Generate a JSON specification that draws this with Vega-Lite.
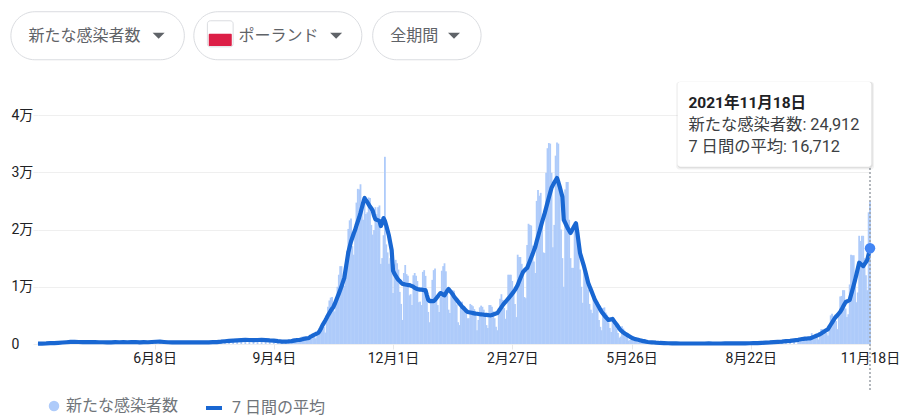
{
"$schema":"https://vega.github.io/schema/vega-lite/v6.json",
"description":"新たな感染者数と7日間の平均（ポーランド、全期間）",
"width":832,"height":229,"autosize":"none",
"padding":{"left":38,"top":115,"right":50,"bottom":74},
"background":"white",
"config":{"font":"Roboto, 'Noto Sans CJK JP'","view":{"stroke":null}},
"datasets":{"one":[{"k":1}],"latest":[{"d":"2021-11-18","n":24912,"a":16712}],
"daily":[
{"d":"2020-03-14","n":40,"a":60},{"d":"2020-03-17","n":60,"a":80},{"d":"2020-03-20","n":90,"a":100},{"d":"2020-03-23","n":120,"a":140},{"d":"2020-03-26","n":170,"a":170},{"d":"2020-03-29","n":220,"a":210},{"d":"2020-04-01","n":250,"a":260},{"d":"2020-04-04","n":300,"a":310},{"d":"2020-04-07","n":370,"a":360},{"d":"2020-04-10","n":380,"a":370},{"d":"2020-04-13","n":320,"a":350},{"d":"2020-04-16","n":350,"a":340},{"d":"2020-04-19","n":320,"a":330},{"d":"2020-04-22","n":340,"a":340},{"d":"2020-04-25","n":350,"a":330},{"d":"2020-04-28","n":300,"a":310},{"d":"2020-05-01","n":320,"a":310},{"d":"2020-05-04","n":270,"a":280},{"d":"2020-05-07","n":310,"a":300},{"d":"2020-05-10","n":330,"a":320},{"d":"2020-05-13","n":300,"a":310},{"d":"2020-05-16","n":340,"a":330},{"d":"2020-05-19","n":300,"a":310},{"d":"2020-05-22","n":340,"a":330},{"d":"2020-05-25","n":350,"a":350},{"d":"2020-05-28","n":290,"a":300},{"d":"2020-05-31","n":330,"a":320},{"d":"2020-06-03","n":300,"a":310},{"d":"2020-06-06","n":370,"a":350},{"d":"2020-06-09","n":570,"a":390},{"d":"2020-06-12","n":410,"a":400},{"d":"2020-06-15","n":330,"a":350},{"d":"2020-06-18","n":310,"a":310},{"d":"2020-06-21","n":290,"a":300},{"d":"2020-06-24","n":290,"a":290},{"d":"2020-06-27","n":280,"a":270},{"d":"2020-06-30","n":260,"a":270},{"d":"2020-07-03","n":290,"a":280},{"d":"2020-07-06","n":270,"a":280},{"d":"2020-07-09","n":300,"a":290},{"d":"2020-07-12","n":290,"a":290},{"d":"2020-07-15","n":280,"a":290},{"d":"2020-07-18","n":310,"a":300},{"d":"2020-07-21","n":320,"a":320},{"d":"2020-07-24","n":360,"a":340},{"d":"2020-07-27","n":420,"a":400},{"d":"2020-07-30","n":510,"a":480},{"d":"2020-08-02","n":570,"a":560},{"d":"2020-08-05","n":620,"a":600},{"d":"2020-08-08","n":660,"a":640},{"d":"2020-08-11","n":680,"a":680},{"d":"2020-08-14","n":820,"a":720},{"d":"2020-08-17","n":550,"a":700},{"d":"2020-08-20","n":690,"a":680},{"d":"2020-08-23","n":720,"a":700},{"d":"2020-08-26","n":700,"a":710},{"d":"2020-08-29","n":680,"a":670},{"d":"2020-09-01","n":600,"a":620},{"d":"2020-09-04","n":600,"a":590},{"d":"2020-09-07","n":400,"a":500},{"d":"2020-09-10","n":450,"a":430},{"d":"2020-09-13","n":440,"a":430},
{"d":"2020-09-14","n":300,"a":440},{"d":"2020-09-15","n":420,"a":460},{"d":"2020-09-16","n":600,"a":480},{"d":"2020-09-17","n":620,"a":500},{"d":"2020-09-18","n":1000,"a":540},{"d":"2020-09-19","n":1000,"a":590},{"d":"2020-09-20","n":780,"a":640},
{"d":"2020-09-21","n":380,"a":690},{"d":"2020-09-22","n":750,"a":700},{"d":"2020-09-23","n":970,"a":720},{"d":"2020-09-24","n":1130,"a":760},{"d":"2020-09-25","n":1300,"a":820},{"d":"2020-09-26","n":1200,"a":890},{"d":"2020-09-27","n":1000,"a":950},
{"d":"2020-09-28","n":700,"a":990},{"d":"2020-09-29","n":760,"a":1010},{"d":"2020-09-30","n":1330,"a":1060},{"d":"2020-10-01","n":1550,"a":1280},{"d":"2020-10-02","n":1490,"a":1370},{"d":"2020-10-03","n":1730,"a":1500},{"d":"2020-10-04","n":1350,"a":1620},
{"d":"2020-10-05","n":1000,"a":1750},{"d":"2020-10-06","n":2000,"a":1860},{"d":"2020-10-07","n":2240,"a":1980},{"d":"2020-10-08","n":2880,"a":2350},{"d":"2020-10-09","n":3000,"a":2800},{"d":"2020-10-10","n":3590,"a":3300},{"d":"2020-10-11","n":3000,"a":3700},
{"d":"2020-10-12","n":2000,"a":4100},{"d":"2020-10-13","n":5070,"a":4530},{"d":"2020-10-14","n":6500,"a":5000},{"d":"2020-10-15","n":7600,"a":5400},{"d":"2020-10-16","n":8100,"a":5800},{"d":"2020-10-17","n":8200,"a":6150},{"d":"2020-10-18","n":7200,"a":6480},
{"d":"2020-10-19","n":5700,"a":7000},{"d":"2020-10-20","n":7900,"a":7600},{"d":"2020-10-21","n":10000,"a":8200},{"d":"2020-10-22","n":12100,"a":8800},{"d":"2020-10-23","n":13600,"a":9440},{"d":"2020-10-24","n":13600,"a":10100},{"d":"2020-10-25","n":11700,"a":10800},
{"d":"2020-10-26","n":10200,"a":11500},{"d":"2020-10-27","n":13900,"a":13000},{"d":"2020-10-28","n":16300,"a":14500},{"d":"2020-10-29","n":20100,"a":16000},{"d":"2020-10-30","n":21600,"a":17000},{"d":"2020-10-31","n":21900,"a":17900},{"d":"2020-11-01","n":17100,"a":18600},
{"d":"2020-11-02","n":15600,"a":19300},{"d":"2020-11-03","n":19300,"a":19900},{"d":"2020-11-04","n":24700,"a":20700},{"d":"2020-11-05","n":27100,"a":21400},{"d":"2020-11-06","n":27000,"a":22100},{"d":"2020-11-07","n":27900,"a":22900},{"d":"2020-11-08","n":24800,"a":23800},
{"d":"2020-11-09","n":21700,"a":24700},{"d":"2020-11-10","n":25200,"a":25500},{"d":"2020-11-11","n":22700,"a":25100},{"d":"2020-11-12","n":23000,"a":24800},{"d":"2020-11-13","n":25600,"a":24400},{"d":"2020-11-14","n":25500,"a":24000},{"d":"2020-11-15","n":20800,"a":23700},
{"d":"2020-11-16","n":19100,"a":23300},{"d":"2020-11-17","n":19900,"a":22400},{"d":"2020-11-18","n":23900,"a":21800},{"d":"2020-11-19","n":22700,"a":21700},{"d":"2020-11-20","n":23900,"a":21600},{"d":"2020-11-21","n":24200,"a":21500},{"d":"2020-11-22","n":14000,"a":20600},
{"d":"2020-11-23","n":15000,"a":21100},{"d":"2020-11-24","n":19000,"a":22000},{"d":"2020-11-25","n":32700,"a":21500},{"d":"2020-11-26","n":17400,"a":20700},{"d":"2020-11-27","n":16000,"a":19800},{"d":"2020-11-28","n":14000,"a":18900},{"d":"2020-11-29","n":15000,"a":17600},
{"d":"2020-11-30","n":14000,"a":16400},{"d":"2020-12-01","n":8900,"a":12800},{"d":"2020-12-02","n":13900,"a":12300},{"d":"2020-12-03","n":14700,"a":11900},{"d":"2020-12-04","n":14100,"a":11500},{"d":"2020-12-05","n":13000,"a":11200},{"d":"2020-12-06","n":9100,"a":11000},
{"d":"2020-12-07","n":7000,"a":10700},{"d":"2020-12-08","n":4200,"a":10500},{"d":"2020-12-09","n":12400,"a":10450},{"d":"2020-12-10","n":13800,"a":10400},{"d":"2020-12-11","n":12200,"a":10350},{"d":"2020-12-12","n":11900,"a":10300},{"d":"2020-12-13","n":8500,"a":10300},
{"d":"2020-12-14","n":8700,"a":10200},{"d":"2020-12-15","n":6800,"a":10100},{"d":"2020-12-16","n":12000,"a":10000},{"d":"2020-12-17","n":12400,"a":9800},{"d":"2020-12-18","n":11900,"a":9700},{"d":"2020-12-19","n":11000,"a":9600},{"d":"2020-12-20","n":7300,"a":9550},
{"d":"2020-12-21","n":7400,"a":9500},{"d":"2020-12-22","n":6800,"a":9500},{"d":"2020-12-23","n":12600,"a":9450},{"d":"2020-12-24","n":12900,"a":9400},{"d":"2020-12-25","n":11900,"a":9400},{"d":"2020-12-26","n":8000,"a":8500},{"d":"2020-12-27","n":5600,"a":7700},
{"d":"2020-12-28","n":3800,"a":7500},{"d":"2020-12-29","n":8000,"a":7500},{"d":"2020-12-30","n":11200,"a":7500},{"d":"2020-12-31","n":12900,"a":7500},{"d":"2021-01-01","n":13200,"a":7700},{"d":"2021-01-02","n":7700,"a":8000},{"d":"2021-01-03","n":6800,"a":8300},
{"d":"2021-01-04","n":5600,"a":8600},{"d":"2021-01-05","n":8200,"a":8900},{"d":"2021-01-06","n":12800,"a":8800},{"d":"2021-01-07","n":13600,"a":8600},{"d":"2021-01-08","n":14100,"a":8500},{"d":"2021-01-09","n":12700,"a":8900},{"d":"2021-01-10","n":9000,"a":9300},
{"d":"2021-01-11","n":6000,"a":9600},{"d":"2021-01-12","n":5400,"a":9300},{"d":"2021-01-13","n":8700,"a":9000},{"d":"2021-01-14","n":9400,"a":8700},{"d":"2021-01-15","n":9300,"a":8300},{"d":"2021-01-16","n":8000,"a":8000},{"d":"2021-01-17","n":6900,"a":7700},
{"d":"2021-01-18","n":3800,"a":7400},{"d":"2021-01-19","n":3300,"a":7100},{"d":"2021-01-20","n":7300,"a":6800},{"d":"2021-01-21","n":7400,"a":6500},{"d":"2021-01-22","n":6700,"a":6300},{"d":"2021-01-23","n":6500,"a":6050},{"d":"2021-01-24","n":5400,"a":5800},
{"d":"2021-01-25","n":4500,"a":5600},{"d":"2021-01-26","n":4500,"a":5550},{"d":"2021-01-27","n":7000,"a":5500},{"d":"2021-01-28","n":6800,"a":5450},{"d":"2021-01-29","n":6600,"a":5400},{"d":"2021-01-30","n":6100,"a":5350},{"d":"2021-01-31","n":5000,"a":5300},
{"d":"2021-02-01","n":2400,"a":5280},{"d":"2021-02-02","n":4200,"a":5240},{"d":"2021-02-03","n":6400,"a":5200},{"d":"2021-02-04","n":6700,"a":5180},{"d":"2021-02-05","n":6500,"a":5150},{"d":"2021-02-06","n":6000,"a":5120},{"d":"2021-02-07","n":4800,"a":5100},
{"d":"2021-02-08","n":3300,"a":5080},{"d":"2021-02-09","n":2800,"a":5050},{"d":"2021-02-10","n":6800,"a":5020},{"d":"2021-02-11","n":6800,"a":5000},{"d":"2021-02-12","n":6500,"a":5080},{"d":"2021-02-13","n":5700,"a":5160},{"d":"2021-02-14","n":4500,"a":5240},
{"d":"2021-02-15","n":3000,"a":5320},{"d":"2021-02-16","n":2400,"a":5400},{"d":"2021-02-17","n":6300,"a":5750},{"d":"2021-02-18","n":7900,"a":6100},{"d":"2021-02-19","n":8700,"a":6450},{"d":"2021-02-20","n":7700,"a":6800},{"d":"2021-02-21","n":6300,"a":7080},
{"d":"2021-02-22","n":4400,"a":7360},{"d":"2021-02-23","n":5900,"a":7640},{"d":"2021-02-24","n":12100,"a":7920},{"d":"2021-02-25","n":12100,"a":8200},{"d":"2021-02-26","n":12100,"a":8500},{"d":"2021-02-27","n":11000,"a":8800},{"d":"2021-02-28","n":9400,"a":9100},
{"d":"2021-03-01","n":7000,"a":9450},{"d":"2021-03-02","n":4700,"a":9850},{"d":"2021-03-03","n":15600,"a":10300},{"d":"2021-03-04","n":15200,"a":10900},{"d":"2021-03-05","n":15200,"a":11500},{"d":"2021-03-06","n":14000,"a":12050},{"d":"2021-03-07","n":12100,"a":12600},
{"d":"2021-03-08","n":8200,"a":12850},{"d":"2021-03-09","n":8000,"a":13100},{"d":"2021-03-10","n":17300,"a":13300},{"d":"2021-03-11","n":21000,"a":13900},{"d":"2021-03-12","n":20800,"a":14500},{"d":"2021-03-13","n":20700,"a":15100},{"d":"2021-03-14","n":17200,"a":15700},
{"d":"2021-03-15","n":14400,"a":16350},{"d":"2021-03-16","n":12400,"a":17000},{"d":"2021-03-17","n":25000,"a":17900},{"d":"2021-03-18","n":26900,"a":18750},{"d":"2021-03-19","n":25900,"a":19600},{"d":"2021-03-20","n":26400,"a":20450},{"d":"2021-03-21","n":21800,"a":21300},
{"d":"2021-03-22","n":16000,"a":22100},{"d":"2021-03-23","n":15900,"a":22900},{"d":"2021-03-24","n":29900,"a":23800},{"d":"2021-03-25","n":34200,"a":24700},{"d":"2021-03-26","n":35100,"a":25600},{"d":"2021-03-27","n":35000,"a":26450},{"d":"2021-03-28","n":29900,"a":27300},
{"d":"2021-03-29","n":16900,"a":27750},{"d":"2021-03-30","n":20800,"a":28200},{"d":"2021-03-31","n":32900,"a":28600},{"d":"2021-04-01","n":35200,"a":29000},{"d":"2021-04-02","n":35000,"a":28300},{"d":"2021-04-03","n":28000,"a":27500},{"d":"2021-04-04","n":20000,"a":26600},
{"d":"2021-04-05","n":15000,"a":25700},{"d":"2021-04-06","n":10000,"a":21700},{"d":"2021-04-07","n":27000,"a":21200},{"d":"2021-04-08","n":28300,"a":20700},{"d":"2021-04-09","n":28300,"a":20200},{"d":"2021-04-10","n":21700,"a":19800},{"d":"2021-04-11","n":15000,"a":19400},
{"d":"2021-04-12","n":13300,"a":19800},{"d":"2021-04-13","n":13300,"a":20250},{"d":"2021-04-14","n":21300,"a":20700},{"d":"2021-04-15","n":21100,"a":21100},{"d":"2021-04-16","n":17900,"a":19500},{"d":"2021-04-17","n":16500,"a":17700},{"d":"2021-04-18","n":13000,"a":15900},
{"d":"2021-04-19","n":10000,"a":15100},{"d":"2021-04-20","n":7200,"a":14300},{"d":"2021-04-21","n":14000,"a":13500},{"d":"2021-04-22","n":12400,"a":12600},{"d":"2021-04-23","n":11000,"a":11650},{"d":"2021-04-24","n":9500,"a":10700},{"d":"2021-04-25","n":7000,"a":10100},
{"d":"2021-04-26","n":6000,"a":9500},{"d":"2021-04-27","n":5400,"a":8900},{"d":"2021-04-28","n":8700,"a":8300},{"d":"2021-04-29","n":8400,"a":7700},{"d":"2021-04-30","n":7500,"a":7300},{"d":"2021-05-01","n":6800,"a":6850},{"d":"2021-05-02","n":4200,"a":6450},
{"d":"2021-05-03","n":3000,"a":6000},{"d":"2021-05-04","n":2400,"a":5600},{"d":"2021-05-05","n":6300,"a":5300},{"d":"2021-05-06","n":6400,"a":5000},{"d":"2021-05-07","n":5500,"a":4700},{"d":"2021-05-08","n":5100,"a":4450},{"d":"2021-05-09","n":3800,"a":4200},
{"d":"2021-05-10","n":2800,"a":4250},{"d":"2021-05-11","n":2100,"a":4300},{"d":"2021-05-12","n":4500,"a":4400},{"d":"2021-05-13","n":4000,"a":4050},{"d":"2021-05-14","n":3300,"a":3700},{"d":"2021-05-15","n":2700,"a":3400},{"d":"2021-05-16","n":1900,"a":3050},
{"d":"2021-05-17","n":1100,"a":2700},{"d":"2021-05-18","n":1300,"a":2400},{"d":"2021-05-19","n":3100,"a":2200},{"d":"2021-05-20","n":2700,"a":2000},{"d":"2021-05-21","n":2300,"a":1850},{"d":"2021-05-22","n":1900,"a":1700},{"d":"2021-05-23","n":1300,"a":1550},
{"d":"2021-05-24","n":600,"a":1400},{"d":"2021-05-25","n":700,"a":1250},{"d":"2021-05-26","n":1500,"a":1120},{"d":"2021-05-27","n":1200,"a":1000},{"d":"2021-05-28","n":1000,"a":920},{"d":"2021-05-29","n":800,"a":850},{"d":"2021-05-30","n":500,"a":790},
{"d":"2021-05-31","n":300,"a":730},{"d":"2021-06-01","n":500,"a":670},{"d":"2021-06-02","n":800,"a":610},{"d":"2021-06-03","n":600,"a":550},{"d":"2021-06-04","n":400,"a":500},{"d":"2021-06-05","n":500,"a":450},{"d":"2021-06-06","n":300,"a":400},{"d":"2021-06-07","n":150,"a":350},
{"d":"2021-06-10","n":370,"a":300},{"d":"2021-06-13","n":190,"a":230},{"d":"2021-06-16","n":220,"a":180},{"d":"2021-06-19","n":170,"a":150},{"d":"2021-06-22","n":90,"a":130},{"d":"2021-06-25","n":120,"a":110},{"d":"2021-06-28","n":60,"a":100},{"d":"2021-07-01","n":110,"a":90},{"d":"2021-07-04","n":70,"a":90},{"d":"2021-07-07","n":100,"a":85},{"d":"2021-07-10","n":90,"a":85},{"d":"2021-07-13","n":60,"a":85},{"d":"2021-07-16","n":110,"a":85},{"d":"2021-07-19","n":60,"a":90},{"d":"2021-07-22","n":120,"a":95},{"d":"2021-07-25","n":80,"a":90},{"d":"2021-07-28","n":100,"a":90},{"d":"2021-07-31","n":110,"a":90},{"d":"2021-08-03","n":70,"a":95},{"d":"2021-08-06","n":120,"a":100},{"d":"2021-08-09","n":70,"a":105},{"d":"2021-08-12","n":140,"a":110},{"d":"2021-08-15","n":90,"a":115},{"d":"2021-08-18","n":140,"a":120},{"d":"2021-08-21","n":150,"a":130},{"d":"2021-08-24","n":110,"a":150},{"d":"2021-08-27","n":210,"a":170},{"d":"2021-08-30","n":120,"a":200},{"d":"2021-09-02","n":280,"a":230},{"d":"2021-09-05","n":260,"a":270},{"d":"2021-09-08","n":430,"a":330},{"d":"2021-09-11","n":480,"a":380},{"d":"2021-09-14","n":310,"a":430},{"d":"2021-09-17","n":620,"a":500},{"d":"2021-09-20","n":340,"a":560},{"d":"2021-09-23","n":830,"a":640},{"d":"2021-09-26","n":650,"a":730},
{"d":"2021-09-27","n":400,"a":780},{"d":"2021-09-28","n":720,"a":830},{"d":"2021-09-29","n":1200,"a":870},{"d":"2021-09-30","n":1100,"a":900},{"d":"2021-10-01","n":1000,"a":930},{"d":"2021-10-02","n":1000,"a":950},{"d":"2021-10-03","n":800,"a":970},
{"d":"2021-10-04","n":600,"a":1000},{"d":"2021-10-05","n":1300,"a":1000},{"d":"2021-10-06","n":1900,"a":1090},{"d":"2021-10-07","n":1500,"a":1190},{"d":"2021-10-08","n":1300,"a":1290},{"d":"2021-10-09","n":1500,"a":1390},{"d":"2021-10-10","n":1100,"a":1490},
{"d":"2021-10-11","n":800,"a":1590},{"d":"2021-10-12","n":1600,"a":1700},{"d":"2021-10-13","n":2600,"a":1850},{"d":"2021-10-14","n":2600,"a":2000},{"d":"2021-10-15","n":2400,"a":2150},{"d":"2021-10-16","n":2600,"a":2300},{"d":"2021-10-17","n":2000,"a":2450},
{"d":"2021-10-18","n":1500,"a":2600},{"d":"2021-10-19","n":2700,"a":2980},{"d":"2021-10-20","n":5000,"a":3360},{"d":"2021-10-21","n":5300,"a":3740},{"d":"2021-10-22","n":4900,"a":4120},{"d":"2021-10-23","n":5100,"a":4500},{"d":"2021-10-24","n":4000,"a":4780},
{"d":"2021-10-25","n":2600,"a":5050},{"d":"2021-10-26","n":5500,"a":5330},{"d":"2021-10-27","n":8300,"a":5600},{"d":"2021-10-28","n":8400,"a":6000},{"d":"2021-10-29","n":9400,"a":6450},{"d":"2021-10-30","n":9400,"a":6900},{"d":"2021-10-31","n":6200,"a":7300},
{"d":"2021-11-01","n":4700,"a":7430},{"d":"2021-11-02","n":5200,"a":7560},{"d":"2021-11-03","n":10400,"a":7700},{"d":"2021-11-04","n":15600,"a":8550},{"d":"2021-11-05","n":15500,"a":9400},{"d":"2021-11-06","n":15500,"a":10300},{"d":"2021-11-07","n":11000,"a":11200},
{"d":"2021-11-08","n":7300,"a":12200},{"d":"2021-11-09","n":9000,"a":13200},{"d":"2021-11-10","n":18900,"a":14200},{"d":"2021-11-11","n":18000,"a":14000},{"d":"2021-11-12","n":18900,"a":13800},{"d":"2021-11-13","n":18900,"a":13600},{"d":"2021-11-14","n":15000,"a":13950},
{"d":"2021-11-15","n":12000,"a":14300},{"d":"2021-11-16","n":9400,"a":14700},{"d":"2021-11-17","n":23000,"a":15700},{"d":"2021-11-18","n":24912,"a":16712}
]},
"encoding":{
"x":{"type":"temporal","title":null,"scale":{"type":"utc","padding":0,"domain":["2020-03-14","2021-11-18"]},
"axis":{"values":[{"year":2020,"month":6,"date":8,"utc":true},{"year":2020,"month":9,"date":4,"utc":true},{"year":2020,"month":12,"date":1,"utc":true},{"year":2021,"month":2,"date":27,"utc":true},{"year":2021,"month":5,"date":26,"utc":true},{"year":2021,"month":8,"date":22,"utc":true},{"year":2021,"month":11,"date":18,"utc":true}],
"format":"%-m月%-d日","domain":false,"grid":false,"tickColor":"#e8e8e8","tickSize":5,"labelPadding":2,"labelFontSize":14,"labelColor":"#202124","labelFlush":false,"labelOverlap":false,"labelBound":false}},
"y":{"type":"quantitative","title":null,"scale":{"domain":[0,40000],"nice":false},
"axis":{"values":[0,10000,20000,30000,40000],"labelExpr":"datum.value == 0 ? '0' : (datum.value / 10000) + '万'","domain":false,"grid":true,"gridColor":"#efefef","tickColor":"#efefef","tickSize":5,"labelAlign":"left","labelPadding":22,"labelFontSize":14,"labelColor":"#202124"}}
},
"layer":[
{"data":{"name":"daily"},"mark":{"type":"bar","width":1.8},"encoding":{"x":{"field":"d"},"y":{"field":"n"},
"fill":{"datum":"新たな感染者数","scale":{"range":["#aecbfa"]},"legend":{"orient":"none","legendX":8,"legendY":283,"title":null,"padding":0,"symbolType":"circle","symbolSize":110,"labelFontSize":16,"labelColor":"#70757a","labelOffset":4}}}},
{"data":{"name":"daily"},"mark":{"type":"line","strokeWidth":4.2,"strokeJoin":"round","clip":false},"encoding":{"x":{"field":"d"},"y":{"field":"a"},
"stroke":{"datum":"7 日間の平均","scale":{"range":["#1967d2"]},"legend":{"orient":"none","legendX":166,"legendY":283,"title":null,"padding":0,"symbolType":"stroke","symbolSize":256,"symbolStrokeWidth":4,"labelFontSize":16,"labelColor":"#70757a","labelOffset":8}}}},
{"data":{"name":"latest"},"mark":{"type":"rule","color":"#9aa0a6","strokeWidth":1.5,"strokeDash":[2,2]},"encoding":{"x":{"field":"d"},"y":{"datum":-8040},"y2":{"datum":30900}}},
{"data":{"name":"latest"},"mark":{"type":"point","filled":true,"opacity":1,"color":"#4285f4","size":110},"encoding":{"x":{"field":"d"},"y":{"field":"a"}}},

{"data":{"name":"one"},"mark":{"type":"rect","fill":"#000","opacity":0.05,"cornerRadius":3},"encoding":{"x":{"datum":{"year":2021,"month":6,"date":28,"utc":true}},"x2":{"datum":{"year":2021,"month":11,"date":21,"utc":true}},"y":{"datum":30500},"y2":{"datum":45800}}},
{"data":{"name":"one"},"mark":{"type":"rect","fill":"#000","opacity":0.08,"cornerRadius":3},"encoding":{"x":{"datum":{"year":2021,"month":6,"date":29,"utc":true}},"x2":{"datum":{"year":2021,"month":11,"date":20,"utc":true}},"y":{"datum":30700},"y2":{"datum":45800}}},
{"data":{"name":"one"},"mark":{"type":"rect","fill":"white","cornerRadius":3},"encoding":{"x":{"datum":{"year":2021,"month":6,"date":29,"utc":true}},"x2":{"datum":{"year":2021,"month":11,"date":19,"utc":true}},"y":{"datum":30950},"y2":{"datum":45800}}},
{"data":{"name":"one"},"mark":{"type":"text","text":"2021年11月18日","align":"left","baseline":"middle","fontSize":15.5,"fontWeight":"bold","color":"#202124"},"encoding":{"x":{"datum":{"year":2021,"month":7,"date":7,"utc":true}},"y":{"datum":42130}}},
{"data":{"name":"one"},"mark":{"type":"text","text":"新たな感染者数: 24,912","align":"left","baseline":"middle","fontSize":16.3,"color":"#3c4043"},"encoding":{"x":{"datum":{"year":2021,"month":7,"date":7,"utc":true}},"y":{"datum":38280}}},
{"data":{"name":"one"},"mark":{"type":"text","text":"7 日間の平均: 16,712","align":"left","baseline":"middle","fontSize":16.3,"color":"#3c4043"},"encoding":{"x":{"datum":{"year":2021,"month":7,"date":7,"utc":true}},"y":{"datum":34440}}},

{"data":{"name":"one"},"mark":{"type":"rect","fill":"white","stroke":"#dadce0","strokeWidth":1,"cornerRadius":24},"encoding":{"x":{"datum":{"year":2020,"month":2,"date":23,"utc":true}},"x2":{"datum":{"year":2020,"month":6,"date":30,"utc":true}},"y":{"datum":49650},"y2":{"datum":58040}}},
{"data":{"name":"one"},"mark":{"type":"rect","fill":"white","stroke":"#dadce0","strokeWidth":1,"cornerRadius":24},"encoding":{"x":{"datum":{"year":2020,"month":7,"date":7,"utc":true}},"x2":{"datum":{"year":2020,"month":11,"date":8,"utc":true}},"y":{"datum":49650},"y2":{"datum":58040}}},
{"data":{"name":"one"},"mark":{"type":"rect","fill":"white","stroke":"#dadce0","strokeWidth":1,"cornerRadius":24},"encoding":{"x":{"datum":{"year":2020,"month":11,"date":16,"utc":true}},"x2":{"datum":{"year":2021,"month":2,"date":4,"utc":true}},"y":{"datum":49650},"y2":{"datum":58040}}},
{"data":{"name":"one"},"mark":{"type":"text","text":"新たな感染者数","align":"left","baseline":"middle","fontSize":16,"color":"#5f6368"},"encoding":{"x":{"datum":{"year":2020,"month":3,"date":7,"utc":true}},"y":{"datum":53845}}},
{"data":{"name":"one"},"mark":{"type":"text","text":"ポーランド","align":"left","baseline":"middle","fontSize":16,"color":"#5f6368"},"encoding":{"x":{"datum":{"year":2020,"month":8,"date":9,"utc":true}},"y":{"datum":53845}}},
{"data":{"name":"one"},"mark":{"type":"text","text":"全期間","align":"left","baseline":"middle","fontSize":16,"color":"#5f6368"},"encoding":{"x":{"datum":{"year":2020,"month":11,"date":29,"utc":true}},"y":{"datum":53845}}},
{"data":{"name":"one"},"mark":{"type":"point","filled":true,"opacity":1,"color":"#5f6368","size":144,"shape":"M-1,-0.5L1,-0.5L0,0.5Z"},"encoding":{"x":{"datum":{"year":2020,"month":6,"date":11,"utc":true}},"y":{"datum":53845}}},
{"data":{"name":"one"},"mark":{"type":"point","filled":true,"opacity":1,"color":"#5f6368","size":144,"shape":"M-1,-0.5L1,-0.5L0,0.5Z"},"encoding":{"x":{"datum":{"year":2020,"month":10,"date":20,"utc":true}},"y":{"datum":53845}}},
{"data":{"name":"one"},"mark":{"type":"point","filled":true,"opacity":1,"color":"#5f6368","size":144,"shape":"M-1,-0.5L1,-0.5L0,0.5Z"},"encoding":{"x":{"datum":{"year":2021,"month":1,"date":15,"utc":true}},"y":{"datum":53845}}},
{"data":{"name":"one"},"mark":{"type":"rect","fill":"white","stroke":"#dadce0","strokeWidth":1,"cornerRadius":3},"encoding":{"x":{"datum":{"year":2020,"month":7,"date":17,"utc":true}},"x2":{"datum":{"year":2020,"month":8,"date":5,"utc":true}},"y":{"datum":51900},"y2":{"datum":56460}}},
{"data":{"name":"one"},"mark":{"type":"rect","fill":"#dc1e46","cornerRadius":1},"encoding":{"x":{"datum":{"year":2020,"month":7,"date":18,"utc":true}},"x2":{"datum":{"year":2020,"month":8,"date":4,"utc":true}},"y":{"datum":52050},"y2":{"datum":54190}}}
]
}
